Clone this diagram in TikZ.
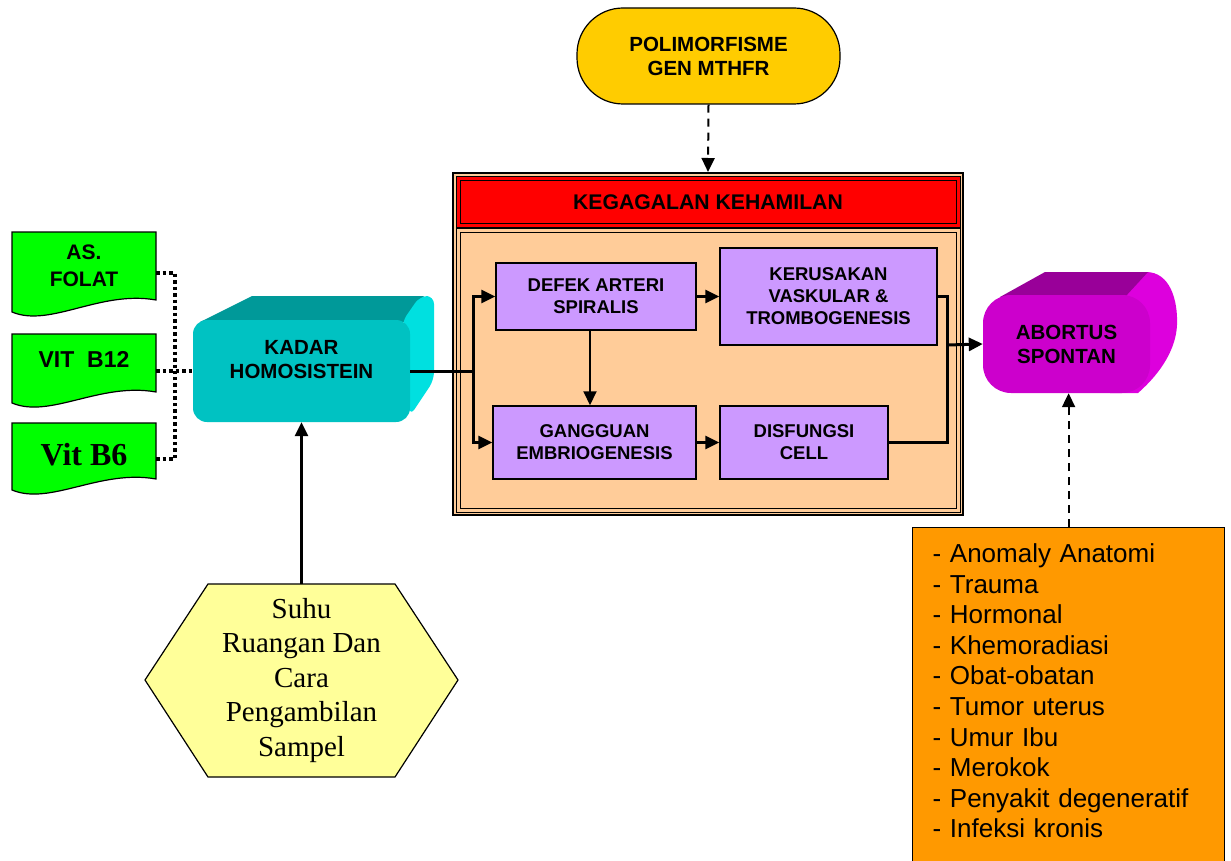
\documentclass[tikz,border=0pt]{standalone}
\usepackage{fontspec}
\setmainfont{Liberation Serif}
\setsansfont{Liberation Sans}
\usetikzlibrary{arrows.meta}
\usetikzlibrary{calc}
\definecolor{hijau}{HTML}{00FF00}
\definecolor{tosca}{HTML}{00C2C2}
\definecolor{toscatua}{HTML}{009999}
\definecolor{toscamuda}{HTML}{00E0E0}
\definecolor{kuning}{HTML}{FFCC00}
\definecolor{kuningmuda}{HTML}{FFFF99}
\definecolor{krem}{HTML}{FFCC99}
\definecolor{ungu}{HTML}{CC99FF}
\definecolor{magentaa}{HTML}{CC00CC}
\definecolor{magentatua}{HTML}{990099}
\definecolor{magentamuda}{HTML}{DD00DD}
\definecolor{jingga}{HTML}{FF9900}

\begin{document}
\begin{tikzpicture}[x=1pt,y=-1pt,
  judul/.style={font=\sffamily\bfseries\fontsize{20.5}{24}\selectfont,align=center,inner sep=0pt},
  kotak/.style={draw,line width=1.5pt,fill=ungu,font=\sffamily\bfseries\fontsize{18.5}{22}\selectfont,align=center,inner sep=0pt},
  hijaubox/.style={font=\sffamily\bfseries\fontsize{21}{27}\selectfont,align=center,inner sep=0pt,minimum width=144pt},
  panah/.style={line width=3pt,-{Triangle[length=14pt,width=13pt]}},
  putus/.style={line width=2pt,dash pattern=on 8pt off 6pt,-{Triangle[length=14pt,width=13pt]}},
  titik/.style={line width=3.5pt,dash pattern=on 3.5pt off 3pt}]
\useasboundingbox (0,0) rectangle (1231,861);
\clip (0,0) rectangle (1231,861);

% kotak hijau
\filldraw[fill=hijau,line width=1.2pt] (12,232) -- (156,232) -- (156,300) .. controls (100,290) and (50,328) .. (12,312) -- cycle;
\filldraw[fill=hijau,line width=1.2pt] (12,334) -- (156,334) -- (156,392) .. controls (100,382) and (50,419) .. (12,403) -- cycle;
\filldraw[fill=hijau,line width=1.2pt] (12,423) -- (156,423) -- (156,479) .. controls (100,469) and (50,506) .. (12,490) -- cycle;
\node[hijaubox] (folat) at (84,266) {AS.\\FOLAT};
\node[hijaubox,font=\sffamily\bfseries\fontsize{23}{27}\selectfont] (b12) at (84,359) {VIT~~B12};
\node[hijaubox,font=\rmfamily\bfseries\fontsize{32}{36}\selectfont] (b6) at (84,455) {Vit B6};

% kadar homosistein
\fill[toscatua] (200,322) -- (252,296) -- (424,296) -- (404,322) -- cycle;
\fill[toscamuda,rounded corners=8pt] (402,322) -- (420,296) -- (434,296) -- (434,380) -- (410,416) -- cycle;
\node[fill=tosca,rounded corners=14pt,minimum width=217pt,minimum height=102pt] (kadar) at (301.5,371) {};
\node[judul] (kadartxt) at (301.5,360) {KADAR\\HOMOSISTEIN};

% polimorfisme
\node[judul,draw,line width=1.2pt,fill=kuning,rounded corners=46pt,minimum width=263pt,minimum height=96pt] (polim) at (708.5,56) {POLIMORFISME\\GEN MTHFR};

% kegagalan kehamilan
\node[draw,line width=2pt,fill=krem,minimum width=510pt,minimum height=342pt,inner sep=0pt] (frame) at (708,344) {};
\node[draw,line width=1pt,fill=krem,double=krem,double distance=3pt,minimum width=500pt,minimum height=280pt] (zona) at (708,370) {};
\node[judul,font=\sffamily\bfseries\fontsize{21.2}{24}\selectfont,draw,line width=1pt,fill=red,double=red,double distance=3pt,minimum width=500pt,minimum height=46pt] (header) at (708,202) {KEGAGALAN KEHAMILAN};

\node[kotak,minimum width=200pt,minimum height=67pt] (defek) at (596,296.5) {DEFEK ARTERI\\SPIRALIS};
\node[kotak,minimum width=217pt,minimum height=97pt] (kerusak) at (828.5,296.5) {KERUSAKAN\\VASKULAR \&\\TROMBOGENESIS};
\node[kotak,minimum width=203pt,minimum height=73pt] (ganggu) at (594.5,442.5) {GANGGUAN\\EMBRIOGENESIS};
\node[kotak,minimum width=168pt,minimum height=73pt] (disfung) at (804,442.5) {DISFUNGSI\\CELL};

% abortus spontan
\fill[magentamuda] (1110,300) -- (1146,272) .. controls (1170,272) and (1178,300) .. (1177,325) .. controls (1176,348) and (1162,372) .. (1138,393) -- (1110,393) -- cycle;
\fill[magentatua] (1000,297) -- (1045,272) -- (1148,272) -- (1125,297) -- cycle;
\node[judul,fill=magentaa,rounded corners=28pt,minimum width=167pt,minimum height=98pt] (abortus) at (1066.5,344) {ABORTUS\\SPONTAN};

% suhu
\filldraw[fill=kuningmuda,line width=1.2pt] (208,584) -- (395,584) -- (458,680) -- (395,777) -- (208,777) -- (145,680) -- cycle;
\node[font=\rmfamily\fontsize{29}{34.5}\selectfont,align=center,inner sep=0pt,minimum width=187pt,minimum height=193pt] (suhu) at (301.5,680.5) {Suhu\\Ruangan Dan\\Cara\\Pengambilan\\Sampel};

% faktor lain
\node[draw,line width=1.2pt,fill=jingga,anchor=north west,inner xsep=20pt,inner ysep=16pt,text width=272pt,align=left,font=\sffamily\fontsize{26}{30.6}\selectfont] (faktor) at (912,527) {- Anomaly Anatomi\\- Trauma\\- Hormonal\\- Khemoradiasi\\- Obat-obatan\\- Tumor uterus\\- Umur Ibu\\- Merokok\\- Penyakit degeneratif\\- Infeksi kronis\\[30pt]\mbox{}};

% garis
\coordinate (dj) at (175,371);
\draw[titik] ([yshift=-7pt]folat.east) -| (dj);
\draw[titik] ([yshift=-4pt]b6.east) -| (dj);
\draw[titik] ([yshift=-12pt]b12.east) -- (kadar.west);

\coordinate (jl) at (473,371);
\draw[line width=3pt] (kadar.east) -- (jl);
\draw[panah] (jl) |- (defek.west);
\draw[panah] (jl) |- (ganggu.west);
\draw[panah] (defek.east) -- (kerusak.west);
\draw[line width=2pt,-{Triangle[length=14pt,width=13pt]}] ([xshift=-6pt]defek.south) -- ([xshift=-6pt]defek.south |- ganggu.north);
\draw[panah] (ganggu.east) -- (disfung.west);
\coordinate (jr) at (947,345);
\draw[line width=3pt] (kerusak.east) -| (jr) |- (disfung.east);
\draw[panah] (jr) -- (abortus.west);

\draw[putus] (polim.south) -- (frame.north);
\draw[putus] (faktor.north) -- (faktor.north |- abortus.south);
\draw[panah,line width=2.5pt] (suhu.north) -- (kadar.south);
\end{tikzpicture}
\end{document}
